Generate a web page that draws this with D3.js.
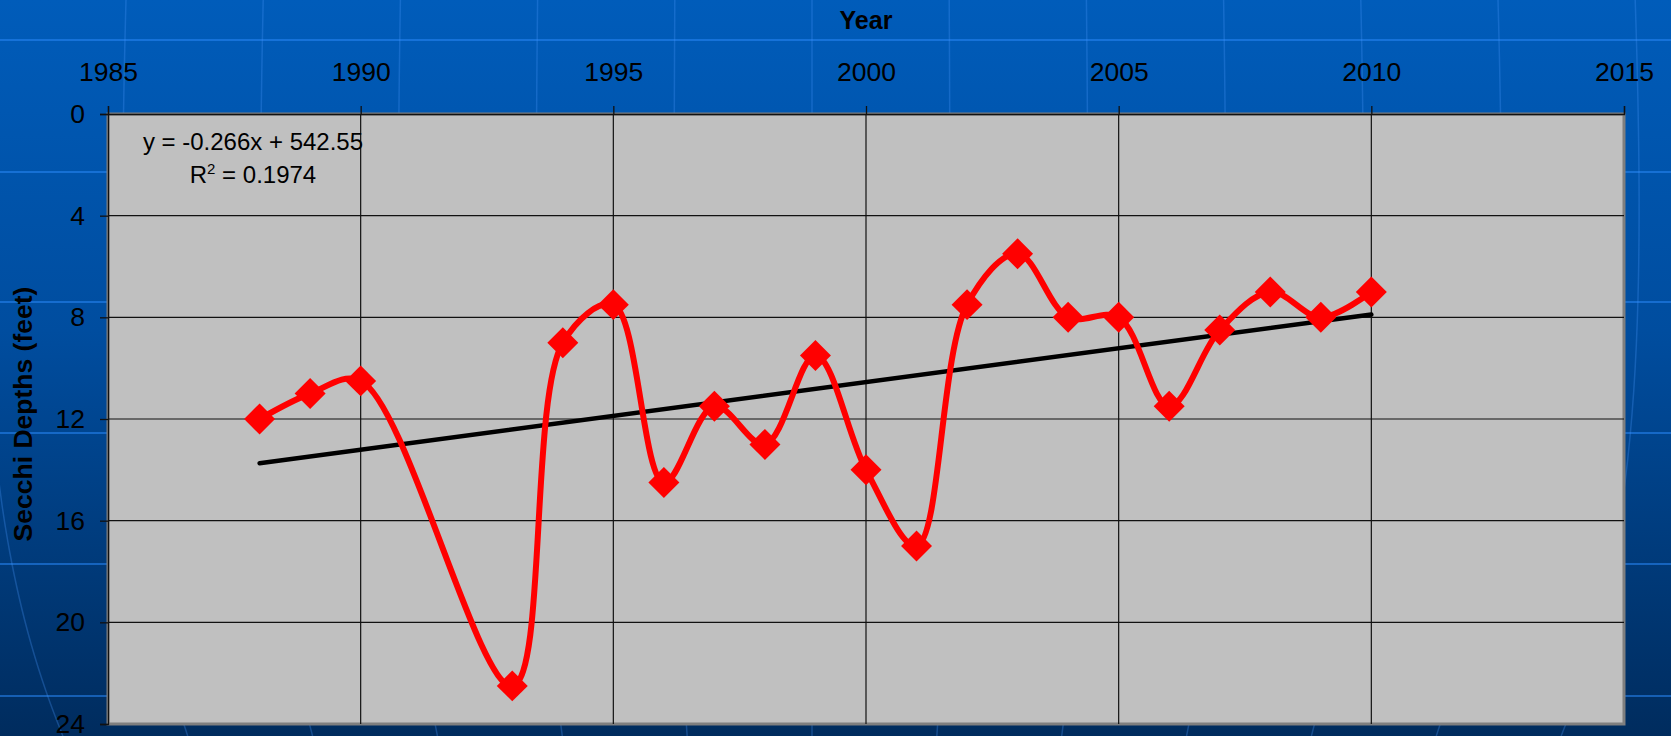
<!DOCTYPE html>
<html><head><meta charset="utf-8">
<script src="https://cdn.jsdelivr.net/npm/d3@7"></script>
<style>html,body{margin:0;padding:0;overflow:hidden;background:#004a9c}</style>
</head><body>
<svg id="chart" width="1671" height="736"></svg>
<script>
// ---- data ----
const years  = [1988,1989,1990,1993,1994,1995,1996,1997,1998,1999,2000,2001,2002,2003,2004,2005,2006,2007,2008,2009,2010];
const depths = [12,  11,  10.5,22.5,9,   7.5, 14.5,11.5,13,  9.5, 14,  17,  7.5, 5.5, 8,   8,   11.5,8.5, 7,   8,   7];
const xTickValues = [1985,1990,1995,2000,2005,2010,2015];
const yTickValues = [0,4,8,12,16,20,24];
const trendSlope = -0.266;
const trendIntercept = 542.55;
const rSquared = "0.1974";
const xTitle = "Year";
const yTitle = "Secchi Depths (feet)";

// ---- layout ----
const W = 1671, H = 736;
const plot = {left:108, right:1624, top:114, bottom:724};
const FONT = "'Liberation Sans', Arial, sans-serif";

const svg = d3.select("#chart");

// background
const defs = svg.append("defs");
const grad = defs.append("linearGradient").attr("id","bg").attr("x1",0).attr("y1",0).attr("x2",0).attr("y2",1);
grad.append("stop").attr("offset","0").attr("stop-color","#005cba");
grad.append("stop").attr("offset","0.45").attr("stop-color","#004d9f");
grad.append("stop").attr("offset","1").attr("stop-color","#002c5e");
svg.append("rect").attr("width",W).attr("height",H).attr("fill","url(#bg)");

// decorative globe grid
const deco = svg.append("g");
[40,172,302,433,564,696].forEach(yy=>{
  deco.append("line").attr("x1",0).attr("x2",W).attr("y1",yy).attr("y2",yy)
    .attr("stroke","rgba(40,135,245,0.55)").attr("stroke-width",2);
});
const cx = 812;
const meridianLine = d3.line().curve(d3.curveBasis);
d3.range(-1,12).forEach(k=>{
  const xt = 126 + 137.2*k;
  const pts = d3.range(0,H+1,23).map(yy=>{
    const t = yy/H;
    const f = 1 + 0.03*t - 0.04*t*t - 0.08*Math.pow(t,4);
    return [cx + (xt-cx)*f, yy];
  });
  deco.append("path").attr("d",meridianLine(pts)).attr("fill","none")
    .attr("stroke","rgba(70,150,250,0.3)").attr("stroke-width",1.5);
});

// scales
const x = d3.scaleLinear().domain([1985,2015]).range([plot.left,plot.right]);
const y = d3.scaleLinear().domain([0,24]).range([plot.top,plot.bottom]);

// plot area
svg.append("rect").attr("x",plot.left).attr("y",plot.top)
  .attr("width",plot.right-plot.left).attr("height",plot.bottom-plot.top)
  .attr("fill","#c0c0c0").attr("stroke","#7f7f7f").attr("stroke-width",3);

// gridlines
const grid = svg.append("g").attr("stroke","#111").attr("stroke-width",1.2);
yTickValues.filter(v=>v>0 && v<24).forEach(v=>{
  grid.append("line").attr("x1",plot.left).attr("x2",plot.right).attr("y1",y(v)).attr("y2",y(v));
});
xTickValues.filter(v=>v>1985 && v<2015).forEach(v=>{
  grid.append("line").attr("y1",plot.top).attr("y2",plot.bottom).attr("x1",x(v)).attr("x2",x(v));
});

// axes
const xAxis = svg.append("g").attr("transform",`translate(0,${plot.top})`)
  .call(d3.axisTop(x).tickValues(xTickValues).tickFormat(d3.format("d")).tickSize(8).tickPadding(25));
const yAxis = svg.append("g").attr("transform",`translate(${plot.left},0)`)
  .call(d3.axisLeft(y).tickValues(yTickValues).tickFormat(d3.format("d")).tickSize(8).tickPadding(15));
[xAxis,yAxis].forEach(a=>{
  a.selectAll("path.domain").attr("stroke","#111").attr("stroke-width",1.3);
  a.selectAll(".tick line").attr("stroke","#111").attr("stroke-width",1.3);
  a.selectAll("text").attr("fill","#000").style("font-family",FONT).style("font-size","26.5px");
});

// axis titles
svg.append("text").attr("x",866).attr("y",29).attr("text-anchor","middle")
  .style("font-family",FONT).style("font-size","25px").style("font-weight","bold").attr("fill","#000").text(xTitle);
svg.append("text").attr("transform","translate(32,414) rotate(-90)").attr("text-anchor","middle")
  .style("font-family",FONT).style("font-size","26.5px").style("font-weight","bold").attr("fill","#000").text(yTitle);

// trend line
const trendYears = [years[0], years[years.length-1]];
svg.append("path")
  .attr("d", d3.line().x(d=>x(d)).y(d=>y(trendSlope*d+trendIntercept))(trendYears))
  .attr("fill","none").attr("stroke","#000").attr("stroke-width",4.5).attr("stroke-linecap","round");

// data line
const pts = years.map((yr,i)=>[yr,depths[i]]);
svg.append("path")
  .attr("d", d3.line().x(d=>x(d[0])).y(d=>y(d[1])).curve(d3.curveCatmullRom.alpha(0.5))(pts))
  .attr("fill","none").attr("stroke","#ff0000").attr("stroke-width",6).attr("stroke-linejoin","round");

// markers
const sym = d3.symbol().type(d3.symbolSquare).size(480);
svg.append("g").selectAll("path").data(pts).join("path")
  .attr("d",sym).attr("transform",d=>`translate(${x(d[0])},${y(d[1])}) rotate(45)`)
  .attr("fill","#ff0000");

// equation
const eq = svg.append("g").style("font-family",FONT).style("font-size","24px").attr("fill","#000");
eq.append("text").attr("x",253).attr("y",150).attr("text-anchor","middle")
  .text(`y = ${trendSlope}x + ${trendIntercept}`);
const r2 = eq.append("text").attr("x",253).attr("y",183).attr("text-anchor","middle");
r2.append("tspan").text("R");
r2.append("tspan").attr("dy",-9).style("font-size","15px").text("2");
r2.append("tspan").attr("dy",9).text(` = ${rSquared}`);
</script>
</body></html>
